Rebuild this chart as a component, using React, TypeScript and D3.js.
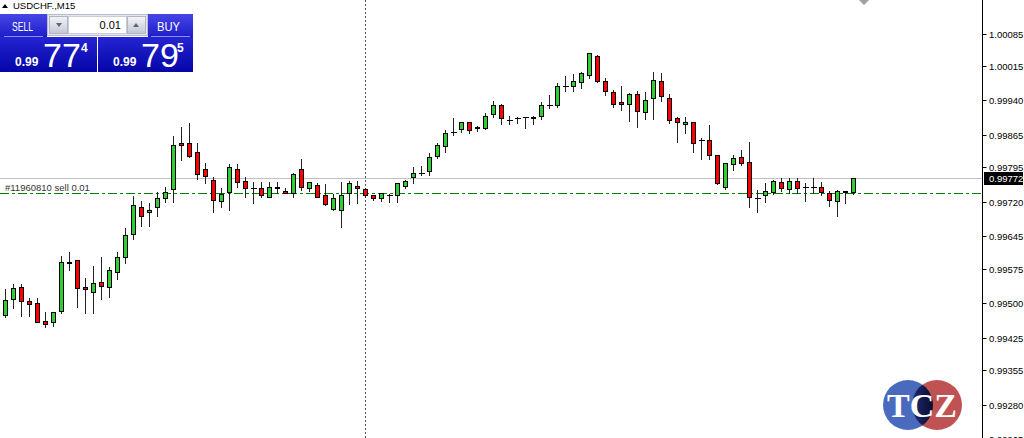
import React from 'react';
import * as d3 from 'd3';

const W = 1024;
const H = 438;

// Bars from index -1 (partially visible at left edge) to 106 (last bar)
const firstIndex = -1;
const openP = [
  0.99449, 0.99475, 0.99510, 0.99536, 0.99504, 0.99501, 0.99462, 0.99458, 0.99482, 0.99586,
  0.99593, 0.99534, 0.99525, 0.99545, 0.99536, 0.99567, 0.99599, 0.99649, 0.99708, 0.99697,
  0.99708, 0.99729, 0.99747, 0.99848, 0.99848, 0.99827, 0.99790, 0.99768, 0.99721, 0.99742,
  0.99792, 0.99764, 0.99749, 0.99749, 0.99731, 0.99749, 0.99744, 0.99740, 0.99790, 0.99749,
  0.99757, 0.99734, 0.99705, 0.99703, 0.99738, 0.99755, 0.99747, 0.99734, 0.99729, 0.99734,
  0.99734, 0.99755, 0.99773, 0.99783, 0.99786, 0.99820, 0.99840, 0.99872, 0.99877, 0.99892,
  0.99879, 0.99881, 0.99911, 0.99929, 0.99898, 0.99901, 0.99903, 0.99901, 0.99905, 0.99929,
  0.99929, 0.99972, 0.99972, 0.99979, 0.99994, 1.00037, 0.99981, 0.99957, 0.99937, 0.99933,
  0.99953, 0.99914, 0.99946, 0.99983, 0.99946, 0.99901, 0.99888, 0.99892, 0.99853, 0.99853,
  0.99822, 0.99751, 0.99801, 0.99818, 0.99807, 0.99729, 0.99734, 0.99742, 0.99762, 0.99747,
  0.99764, 0.99753, 0.99751, 0.99753, 0.99738, 0.99721, 0.99742, 0.99742,
];
const highP = [
  0.99482, 0.99532, 0.99543, 0.99543, 0.99512, 0.99512, 0.99482, 0.99482, 0.99603, 0.99612,
  0.99593, 0.99556, 0.99582, 0.99601, 0.99580, 0.99612, 0.99664, 0.99734, 0.99723, 0.99718,
  0.99742, 0.99753, 0.99864, 0.99883, 0.99892, 0.99848, 0.99805, 0.99775, 0.99751, 0.99803,
  0.99803, 0.99775, 0.99764, 0.99764, 0.99764, 0.99764, 0.99751, 0.99783, 0.99814, 0.99764,
  0.99762, 0.99760, 0.99738, 0.99764, 0.99766, 0.99766, 0.99751, 0.99736, 0.99740, 0.99738,
  0.99762, 0.99768, 0.99796, 0.99799, 0.99827, 0.99848, 0.99877, 0.99903, 0.99894, 0.99894,
  0.99885, 0.99914, 0.99940, 0.99933, 0.99907, 0.99905, 0.99905, 0.99907, 0.99937, 0.99953,
  0.99979, 0.99994, 0.99998, 1.00003, 1.00044, 1.00039, 0.99990, 0.99963, 0.99972, 0.99957,
  0.99961, 0.99959, 1.00003, 1.00000, 0.99955, 0.99905, 0.99905, 0.99892, 0.99859, 0.99888,
  0.99822, 0.99803, 0.99822, 0.99833, 0.99851, 0.99747, 0.99762, 0.99768, 0.99773, 0.99773,
  0.99773, 0.99762, 0.99773, 0.99764, 0.99744, 0.99747, 0.99744, 0.99772,
];
const lowP = [
  0.99443, 0.99471, 0.99491, 0.99473, 0.99473, 0.99460, 0.99449, 0.99452, 0.99480, 0.99573,
  0.99493, 0.99480, 0.99480, 0.99510, 0.99514, 0.99554, 0.99588, 0.99640, 0.99669, 0.99669,
  0.99690, 0.99721, 0.99721, 0.99812, 0.99818, 0.99770, 0.99762, 0.99699, 0.99710, 0.99703,
  0.99753, 0.99731, 0.99718, 0.99731, 0.99731, 0.99740, 0.99740, 0.99731, 0.99747, 0.99744,
  0.99731, 0.99714, 0.99703, 0.99666, 0.99716, 0.99718, 0.99731, 0.99725, 0.99723, 0.99721,
  0.99721, 0.99751, 0.99762, 0.99779, 0.99779, 0.99816, 0.99829, 0.99866, 0.99872, 0.99870,
  0.99875, 0.99879, 0.99905, 0.99890, 0.99890, 0.99892, 0.99881, 0.99890, 0.99901, 0.99924,
  0.99927, 0.99961, 0.99961, 0.99968, 0.99990, 0.99981, 0.99953, 0.99927, 0.99920, 0.99896,
  0.99883, 0.99901, 0.99901, 0.99940, 0.99892, 0.99851, 0.99870, 0.99829, 0.99814, 0.99814,
  0.99760, 0.99749, 0.99790, 0.99801, 0.99710, 0.99699, 0.99721, 0.99738, 0.99744, 0.99740,
  0.99740, 0.99723, 0.99740, 0.99736, 0.99712, 0.99690, 0.99718, 0.99738,
];
const closeP = [
  0.99473, 0.99506, 0.99532, 0.99504, 0.99499, 0.99460, 0.99454, 0.99480, 0.99590, 0.99590,
  0.99532, 0.99530, 0.99543, 0.99538, 0.99571, 0.99601, 0.99647, 0.99712, 0.99690, 0.99701,
  0.99729, 0.99742, 0.99844, 0.99842, 0.99820, 0.99781, 0.99775, 0.99723, 0.99736, 0.99796,
  0.99762, 0.99749, 0.99749, 0.99734, 0.99751, 0.99753, 0.99740, 0.99781, 0.99751, 0.99762,
  0.99731, 0.99716, 0.99729, 0.99734, 0.99760, 0.99749, 0.99734, 0.99729, 0.99738, 0.99734,
  0.99760, 0.99766, 0.99783, 0.99783, 0.99818, 0.99842, 0.99870, 0.99872, 0.99892, 0.99875,
  0.99883, 0.99907, 0.99929, 0.99901, 0.99898, 0.99901, 0.99903, 0.99903, 0.99929, 0.99929,
  0.99972, 0.99972, 0.99981, 1.00000, 1.00042, 0.99983, 0.99961, 0.99931, 0.99933, 0.99953,
  0.99916, 0.99940, 0.99985, 0.99950, 0.99898, 0.99894, 0.99894, 0.99848, 0.99853, 0.99822,
  0.99760, 0.99803, 0.99814, 0.99803, 0.99731, 0.99729, 0.99744, 0.99764, 0.99749, 0.99766,
  0.99749, 0.99753, 0.99753, 0.99742, 0.99723, 0.99744, 0.99744, 0.99772,
];

const tickValues = [1.00085, 1.00015, 0.9994, 0.99865, 0.99795, 0.9972, 0.99645, 0.99575, 0.995, 0.99425, 0.99355, 0.9928, 0.99205];
const tickLabels = ['1.00085', '1.00015', '0.99940', '0.99865', '0.99795', '0.99720', '0.99645', '0.99575', '0.99500', '0.99425', '0.99355', '0.99280', '0.99205'];
const bidPrice = 0.99772;
const bidLabel = '0.99772';
const orderPrice = 0.9974;
const orderLabel = '#11960810 sell 0.01';
const symbolLabel = 'USDCHF.,M15';
const crossBarIndex = 45;
const lotLabel = '0.01';
const sellParts = ['0.99', '77', '4'];
const buyParts = ['0.99', '79', '5'];

const BULL = '#32cd32';
const BEAR = '#ff0000';
const FONT = '"Liberation Sans", Arial, sans-serif';

export default function App() {
  const lastIndex = firstIndex + openP.length - 1;
  const x = d3.scaleLinear().domain([firstIndex, lastIndex]).range([-2.5, 853.5]);
  const y = d3.scaleLinear().domain([0.9928, 1.00085]).range([405, 34]);
  const idx = d3.range(openP.length);
  const axisX = 982.5;
  const crisp = (v: number) => Math.round(v - 0.5) + 0.5;

  const bidY = crisp(y(bidPrice));
  const orderY = crisp(y(orderPrice));
  const crossX = crisp(x(crossBarIndex));

  return (
    <svg width={W} height={H} style={{ position: 'absolute', left: 0, top: 0, display: 'block' }}>
      <defs>
        <linearGradient id="gTop" x1="0" y1="0" x2="0" y2="1">
          <stop offset="0" stopColor="#4646e6" />
          <stop offset="1" stopColor="#1c1cc8" />
        </linearGradient>
        <linearGradient id="gBot" x1="0" y1="0" x2="0" y2="1">
          <stop offset="0" stopColor="#2424d2" />
          <stop offset="1" stopColor="#0505a8" />
        </linearGradient>
        <linearGradient id="gBtn" x1="0" y1="0" x2="0" y2="1">
          <stop offset="0" stopColor="#f4f4f8" />
          <stop offset="1" stopColor="#c4c8d4" />
        </linearGradient>
        <linearGradient id="gOverlap" x1="0" y1="0" x2="1" y2="0">
          <stop offset="0" stopColor="#1b2a78" />
          <stop offset="0.5" stopColor="#08081a" />
          <stop offset="1" stopColor="#6e1414" />
        </linearGradient>
        <clipPath id="clipBlue">
          <circle cx={908} cy={405} r={25} />
        </clipPath>
      </defs>
      <rect x={0} y={0} width={W} height={H} fill="#ffffff" />

      {/* bid line */}
      <line x1={0} x2={axisX} y1={bidY} y2={bidY} stroke="#c0c0c0" strokeWidth={1} />
      {/* order line */}
      <line x1={0} x2={axisX} y1={orderY} y2={orderY} stroke="#008000" strokeWidth={1} strokeDasharray="9,3,3,3" />
      <text x={5} y={orderY - 3} fontFamily={FONT} fontSize={9.5} fill="#333">{orderLabel}</text>

      {/* crosshair vertical dotted line */}
      <line x1={crossX} x2={crossX} y1={0} y2={H} stroke="#555" strokeWidth={1} strokeDasharray="2,2" />

      {/* candles */}
      {idx.map((i) => {
        const k = firstIndex + i;
        const o = openP[i], h = highP[i], l = lowP[i], c = closeP[i];
        const cx = crisp(x(k));
        const yo = y(o), yc = y(c);
        const top = crisp(Math.min(yo, yc));
        const bot = crisp(Math.max(yo, yc));
        const bull = c >= o;
        const doji = bot - top < 1;
        return (
          <g key={k}>
            <line x1={cx} x2={cx} y1={Math.round(y(h))} y2={Math.round(y(l)) + 1} stroke="#222" strokeWidth={1} />
            {doji ? (
              <line x1={cx - 2.5} x2={cx + 3.5} y1={top} y2={top} stroke="#000" strokeWidth={1} />
            ) : (
              <rect x={cx - 2} y={top} width={4} height={bot - top} fill={bull ? BULL : BEAR} stroke="#000" strokeWidth={1} />
            )}
          </g>
        );
      })}

      {/* right price axis */}
      <line x1={axisX} x2={axisX} y1={0} y2={H} stroke="#000" strokeWidth={1} />
      {tickValues.map((v, i) => {
        const ty = crisp(y(v));
        return (
          <g key={v}>
            <line x1={axisX} x2={axisX + 4} y1={ty} y2={ty} stroke="#000" strokeWidth={1} />
            <text x={989} y={ty + 3.5} fontFamily={FONT} fontSize={9.5} fill="#000">{tickLabels[i]}</text>
          </g>
        );
      })}
      <rect x={984} y={bidY - 6.5} width={39} height={13} fill="#000" />
      <text x={989} y={bidY + 3.5} fontFamily={FONT} fontSize={9.5} fill="#fff">{bidLabel}</text>

      {/* shift marker */}
      <polygon points="859,0 869,0 864,5" fill="#a0a0a0" />

      {/* symbol label */}
      <polygon points="2,8 8,8 5,4" fill="#000" />
      <text x={13} y={9} fontFamily={FONT} fontSize={9.5} fill="#000">{symbolLabel}</text>

      {/* one click trading panel */}
      <g>
        <rect x={0} y={14} width={47} height={24} fill="url(#gTop)" />
        <rect x={0} y={37} width={97} height={35} fill="url(#gBot)" />
        <rect x={148} y={14} width={45} height={24} fill="url(#gTop)" />
        <rect x={98} y={37} width={95} height={35} fill="url(#gBot)" />
        <line x1={4} x2={43} y1={36.5} y2={36.5} stroke="#8c8cf0" />
        <line x1={151} x2={190} y1={36.5} y2={36.5} stroke="#8c8cf0" />
        <rect x={47.5} y={14.5} width={100} height={21} fill="#e4e6ee" stroke="#b8bccc" />
        <rect x={49.5} y={16.5} width={18} height={17} fill="url(#gBtn)" stroke="#b0b4c4" />
        <rect x={68.5} y={16.5} width={58} height={17} fill="#ffffff" stroke="#c8ccd8" />
        <rect x={127.5} y={16.5} width={18} height={17} fill="url(#gBtn)" stroke="#b0b4c4" />
        <polygon points="56,23 62,23 59,27" fill="#5a6478" />
        <polygon points="133,27 139,27 136,23" fill="#5a6478" />
        <text x={121} y={29} textAnchor="end" fontFamily={FONT} fontSize={11} fill="#000">{lotLabel}</text>
        <text x={12} y={31} fontFamily={FONT} fontSize={12} fill="#fff" textLength={21} lengthAdjust="spacingAndGlyphs">SELL</text>
        <text x={157} y={31} fontFamily={FONT} fontSize={12} fill="#fff" textLength={23} lengthAdjust="spacingAndGlyphs">BUY</text>

        <text x={15} y={66} fontFamily={FONT} fontSize={12} fontWeight="bold" fill="#fff">{sellParts[0]}</text>
        <text x={43} y={67} fontFamily={FONT} fontSize={34} fill="#fff">{sellParts[1]}</text>
        <text x={81} y={52} fontFamily={FONT} fontSize={12} fontWeight="bold" fill="#fff">{sellParts[2]}</text>
        <text x={113} y={66} fontFamily={FONT} fontSize={12} fontWeight="bold" fill="#fff">{buyParts[0]}</text>
        <text x={141} y={67} fontFamily={FONT} fontSize={34} fill="#fff">{buyParts[1]}</text>
        <text x={177} y={52} fontFamily={FONT} fontSize={12} fontWeight="bold" fill="#fff">{buyParts[2]}</text>
      </g>

      {/* logo */}
      <g>
        <circle cx={908} cy={405} r={25} fill="#4a6bbd" />
        <circle cx={937} cy={405} r={25} fill="#bf5252" />
        <circle cx={937} cy={405} r={25} fill="url(#gOverlap)" clipPath="url(#clipBlue)" />
        <text x={922} y={417} textAnchor="middle" fontFamily='"Liberation Serif", "DejaVu Serif", serif' fontWeight="bold" fontSize={34} fill="#fff">TCZ</text>
      </g>
    </svg>
  );
}
